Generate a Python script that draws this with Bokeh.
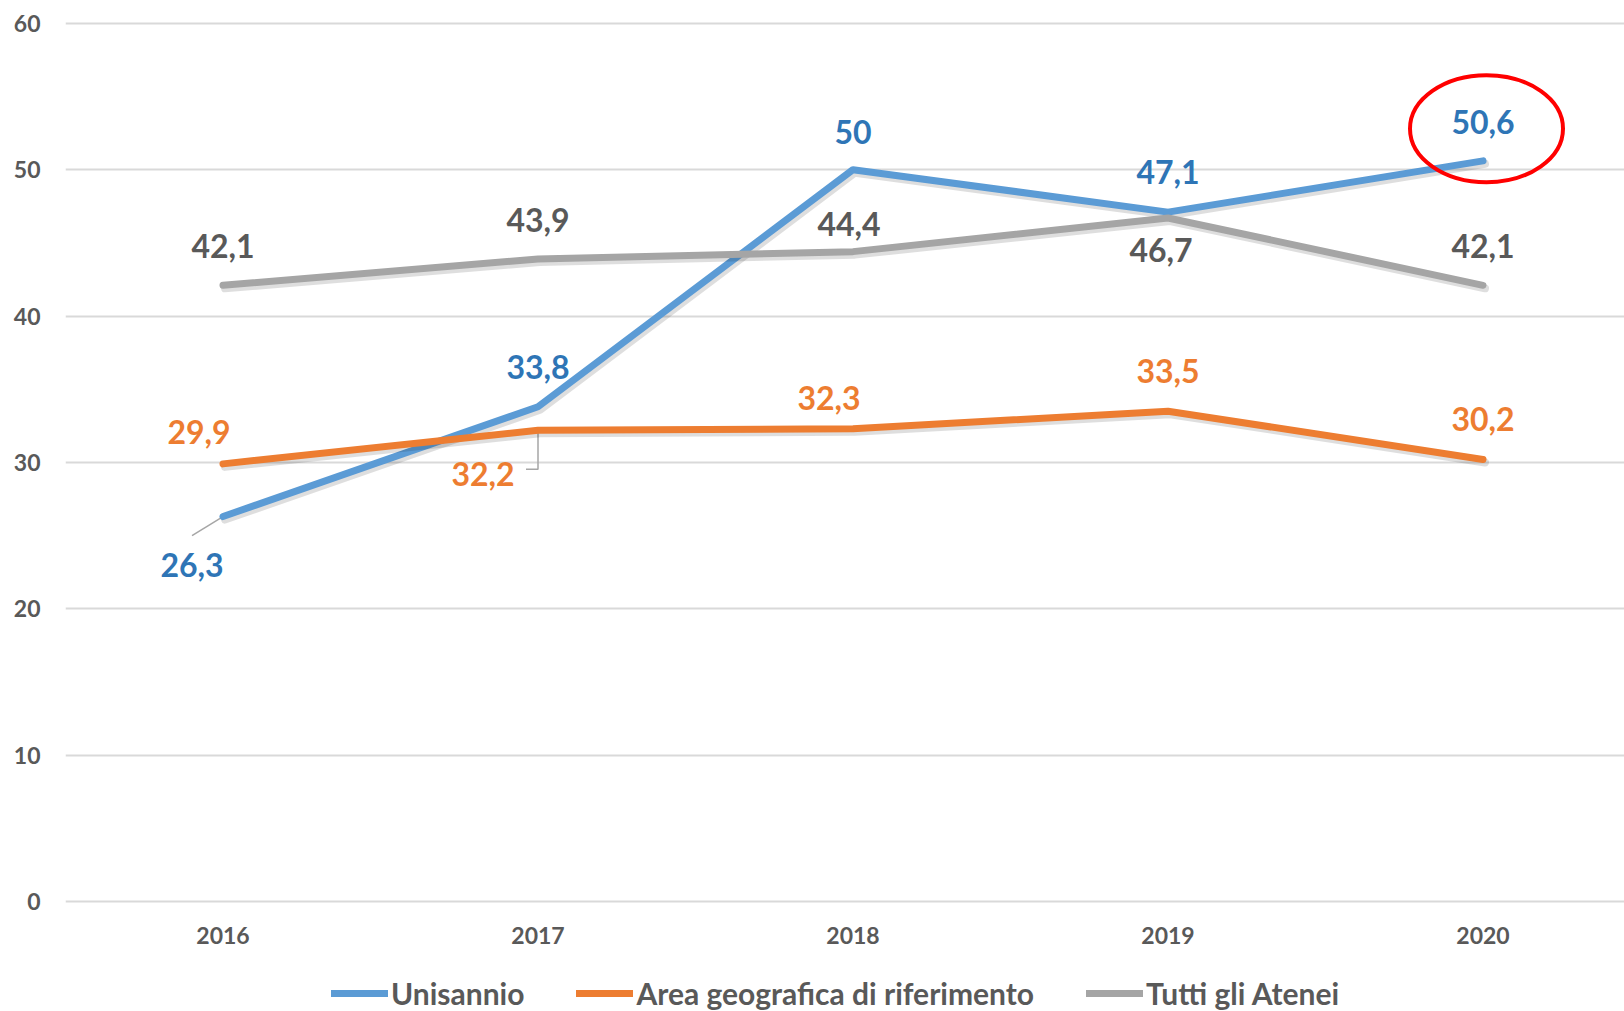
from bokeh.plotting import figure
from bokeh.models import Range1d, FixedTicker, Legend, LegendItem
from bokeh.core.properties import value
from bokeh.embed import file_html
from bokeh.resources import INLINE

# ---- data ----
years = [2016, 2017, 2018, 2019, 2020]
unisannio = [26.3, 33.8, 50.0, 47.1, 50.6]
area = [29.9, 32.2, 32.3, 33.5, 30.2]
tutti = [42.1, 43.9, 44.4, 46.7, 42.1]
series_names = ["Unisannio", "Area geografica di riferimento", "Tutti gli Atenei"]
y_ticks = [0, 10, 20, 30, 40, 50, 60]

# ---- styling ----
FONT = "Lato"
line_colors = ["#5B9BD5", "#ED7D31", "#A5A5A5"]
text_colors = ["#2E75B6", "#ED7D31", "#595959"]
# label offsets in screen px (dx right, dy down)
label_dx = [[-31, 0, 0, 0, 0], [-24, -55, -24, 0, 0], [0, 0, -4, -7, 0]]
label_dy = [[48, -40, -38, -40, -39], [-32, 44, -31, -40, -40], [-39, -39, -28, 32, -39]]

W, H = 1624, 1011
LEFT = 65
FRAME_W, FRAME_H = W - LEFT, H
x_range = Range1d(2015.5, 2015.5 + FRAME_W / 315.0)
y_range = Range1d(-7.515, 61.558)
PX_X = FRAME_W / (x_range.end - x_range.start)
PX_Y = FRAME_H / (y_range.end - y_range.start)

p = figure(width=W, height=H, x_range=x_range, y_range=y_range,
           output_backend="svg", toolbar_location=None,
           min_border_left=LEFT, min_border_right=0, min_border_top=0, min_border_bottom=0,
           background_fill_color="white", border_fill_color="white", outline_line_color=None)

for ax in (p.xaxis, p.yaxis):
    ax.axis_line_color = None
    ax.major_tick_line_color = None
    ax.minor_tick_line_color = None
    ax.major_tick_out = 0
    ax.major_tick_in = 0
    ax.major_label_text_font = FONT
    ax.major_label_text_font_style = "bold"
    ax.major_label_text_font_size = "23px"
    ax.major_label_text_color = "#595959"
p.xaxis.ticker = FixedTicker(ticks=years)
p.xaxis.fixed_location = 0
p.yaxis.ticker = FixedTicker(ticks=y_ticks)
p.xaxis.major_label_standoff = 25
p.yaxis.major_label_standoff = 25
p.xgrid.visible = False
p.ygrid.grid_line_color = "#D9D9D9"
p.ygrid.grid_line_width = 2

all_series = [unisannio, area, tutti]

# leader lines (26,3 and 32,2)
u0 = unisannio[0]
p.line([years[0], years[0] - 31 / PX_X], [u0, u0 - 19 / PX_Y], line_color="#A6A6A6", line_width=1.5)
a1 = area[1]
p.line([years[1], years[1], years[1] - 12 / PX_X],
       [a1, a1 - 39 / PX_Y, a1 - 39 / PX_Y], line_color="#A6A6A6", line_width=1.5)

renderers = []
for vals, col in zip(all_series, line_colors):
    p.line([x + 2 / PX_X for x in years], [v - 3 / PX_Y for v in vals],
           line_color="black", line_alpha=0.13, line_width=8, line_cap="round", line_join="round")
    r = p.line(years, vals, line_color=col, line_width=7, line_cap="round", line_join="round")
    renderers.append(r)

for vals, tcol, dx, dy in zip(all_series, text_colors, label_dx, label_dy):
    labels = [f"{v:g}".replace(".", ",") for v in vals]
    p.text(x=years, y=vals, text=labels, x_offset=dx, y_offset=dy,
           text_font=value(FONT), text_font_style="bold", text_font_size="32px",
           text_color=tcol, text_align="center", text_baseline="middle")

# red highlight ellipse around the last Unisannio value
p.ellipse(x=[years[-1] + 3.5 / PX_X], y=[unisannio[-1] + 2.2], width=153, height=107,
          width_units="screen", height_units="screen",
          fill_alpha=0, line_color="#FF0000", line_width=4)

legend = Legend(items=[LegendItem(label=n, renderers=[r]) for n, r in zip(series_names, renderers)],
                orientation="horizontal", location=(266, 0),
                label_text_font=FONT, label_text_font_style="bold", label_text_font_size="30px",
                label_text_color="#595959", glyph_width=57, glyph_height=34, label_height=34,
                label_standoff=3, spacing=52, padding=0, margin=0,
                border_line_color=None, background_fill_alpha=0)
p.add_layout(legend, "center")

open("out.html", "w").write(file_html(p, INLINE))
